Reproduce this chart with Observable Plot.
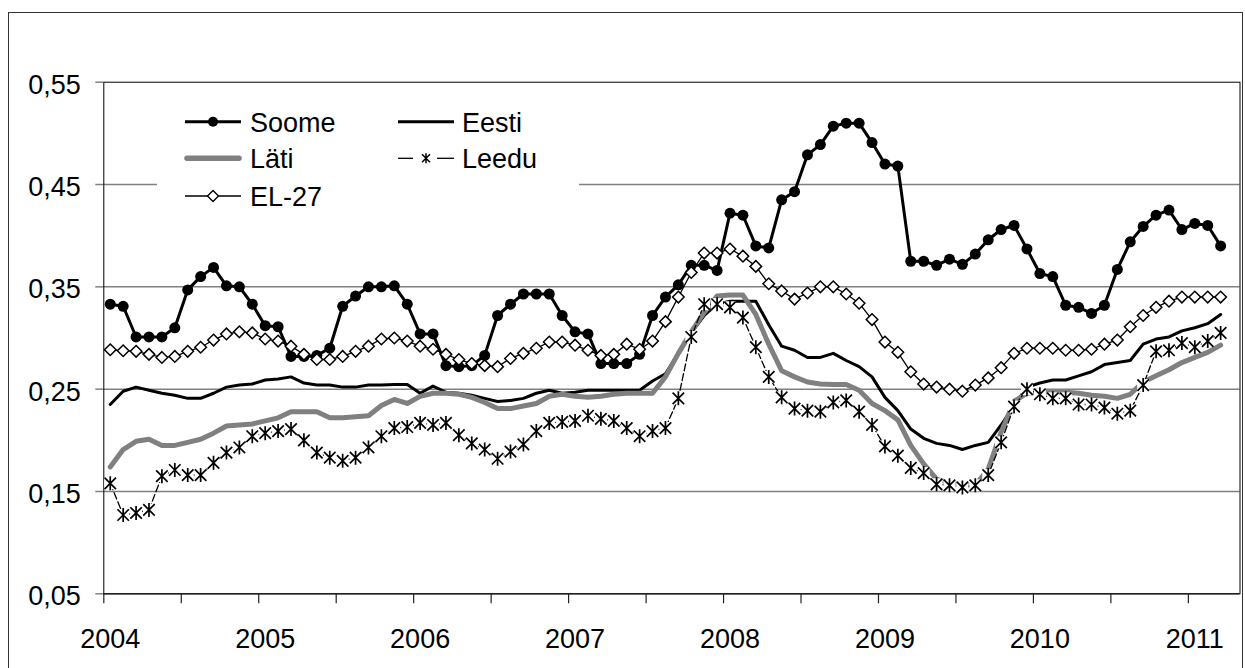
<!DOCTYPE html>
<html><head><meta charset="utf-8">
<script src="https://cdn.jsdelivr.net/npm/d3@7"></script>
<script src="https://cdn.jsdelivr.net/npm/@observablehq/plot@0.6"></script>
<style>
html,body{margin:0;padding:0;background:#fff;}
#wrap{position:relative;width:1245px;height:668px;overflow:hidden;font-family:"Liberation Sans",Arial,sans-serif;}
#frame{position:absolute;left:8px;top:12px;width:1235px;height:700px;border:1.5px solid #333;box-sizing:border-box;}
#chart{position:absolute;left:0;top:0;}
#legend{position:absolute;left:0;top:0;pointer-events:none;}
</style></head>
<body><div id="wrap"><div id="frame"></div><div id="chart"></div><svg id="legend" width="1245" height="668"></svg></div>
<script>
// Monthly values, Jan 2004 .. Mar 2011 (87 months)
const years = ["2004","2005","2006","2007","2008","2009","2010","2011"];
const yTicks = [0.05, 0.15, 0.25, 0.35, 0.45, 0.55];
const gridTicks = [0.15, 0.25, 0.35, 0.45];

const soome = [
 0.333,0.331,0.301,0.301,0.301,0.310,0.347,0.360,0.369,0.351,0.350,0.333,
 0.312,0.311,0.282,0.282,0.283,0.290,0.331,0.341,0.350,0.350,0.351,0.333,
 0.304,0.304,0.273,0.272,0.273,0.283,0.322,0.333,0.343,0.343,0.343,0.322,
 0.306,0.304,0.275,0.275,0.275,0.284,0.322,0.340,0.352,0.371,0.371,0.366,
 0.422,0.420,0.390,0.388,0.435,0.443,0.479,0.489,0.507,0.510,0.510,0.491,
 0.470,0.468,0.375,0.375,0.371,0.377,0.372,0.382,0.396,0.406,0.410,0.387,
 0.363,0.360,0.332,0.330,0.324,0.332,0.367,0.394,0.409,0.420,0.425,0.406,
 0.412,0.410,0.390];
const eesti = [
 0.235,0.248,0.252,0.249,0.246,0.244,0.241,0.241,0.246,0.252,0.254,0.255,
 0.259,0.260,0.262,0.256,0.254,0.254,0.252,0.252,0.254,0.254,0.2545,0.2545,
 0.246,0.253,0.247,0.246,0.244,0.241,0.238,0.239,0.241,0.246,0.249,0.246,
 0.247,0.249,0.249,0.249,0.249,0.249,0.258,0.265,0.285,0.305,0.322,0.333,
 0.336,0.336,0.336,0.313,0.292,0.288,0.281,0.281,0.285,0.278,0.272,0.262,
 0.242,0.229,0.211,0.202,0.197,0.195,0.191,0.195,0.198,0.215,0.234,0.252,
 0.256,0.259,0.259,0.263,0.267,0.274,0.276,0.278,0.294,0.299,0.301,0.307,
 0.310,0.314,0.323];
const lati = [
 0.174,0.191,0.199,0.201,0.195,0.195,0.198,0.201,0.207,0.214,0.215,0.216,
 0.219,0.222,0.228,0.228,0.228,0.222,0.222,0.223,0.224,0.234,0.240,0.236,
 0.243,0.246,0.246,0.245,0.242,0.237,0.231,0.231,0.2335,0.236,0.243,0.245,
 0.243,0.242,0.243,0.245,0.246,0.246,0.246,0.262,0.285,0.306,0.325,0.341,
 0.342,0.342,0.323,0.294,0.268,0.262,0.257,0.255,0.2545,0.2545,0.249,0.236,
 0.229,0.220,0.195,0.177,0.162,0.158,0.156,0.156,0.172,0.208,0.238,0.246,
 0.247,0.247,0.247,0.246,0.244,0.243,0.241,0.245,0.257,0.263,0.269,0.276,
 0.281,0.286,0.293];
const leedu = [
 0.158,0.127,0.129,0.132,0.165,0.171,0.166,0.166,0.178,0.188,0.193,0.204,
 0.207,0.209,0.211,0.200,0.188,0.183,0.180,0.183,0.193,0.204,0.212,0.213,
 0.217,0.215,0.217,0.205,0.197,0.191,0.182,0.189,0.196,0.209,0.217,0.218,
 0.219,0.224,0.221,0.219,0.212,0.204,0.209,0.212,0.241,0.301,0.333,0.333,
 0.330,0.320,0.291,0.262,0.242,0.231,0.229,0.228,0.237,0.239,0.228,0.215,
 0.194,0.185,0.173,0.168,0.157,0.156,0.154,0.156,0.166,0.198,0.233,0.250,
 0.245,0.241,0.241,0.235,0.235,0.232,0.226,0.229,0.254,0.287,0.288,0.295,
 0.291,0.297,0.305];
const el27 = [
 0.2885,0.2875,0.287,0.284,0.281,0.282,0.287,0.291,0.298,0.304,0.306,0.305,
 0.299,0.297,0.292,0.284,0.279,0.279,0.282,0.287,0.292,0.299,0.300,0.297,
 0.292,0.289,0.284,0.279,0.275,0.273,0.272,0.280,0.285,0.290,0.296,0.296,
 0.293,0.288,0.283,0.284,0.294,0.289,0.297,0.316,0.340,0.364,0.383,0.383,
 0.387,0.380,0.370,0.353,0.346,0.338,0.344,0.350,0.350,0.343,0.334,0.318,
 0.296,0.286,0.267,0.255,0.252,0.250,0.248,0.254,0.261,0.271,0.285,0.290,
 0.290,0.290,0.288,0.288,0.289,0.294,0.298,0.311,0.322,0.330,0.336,0.340,
 0.340,0.340,0.340];

const rows = vals => vals.map((v, i) => ({i, v}));
const dSoome = rows(soome), dEesti = rows(eesti), dLati = rows(lati), dLeedu = rows(leedu), dEl = rows(el27);
const nCat = 88;
const catBounds = d3.range(0, 15).map(k => 6 * k - 0.5);
const yearPos = years.map((y, k) => 12 * k);
const fmt = d => d.toFixed(2).replace(".", ",");

const asterisk = {
  draw(ctx, size) {
    const r = Math.sqrt(size / Math.PI);
    const d = r * 0.82;
    ctx.moveTo(-d, -d); ctx.lineTo(d, d);
    ctx.moveTo(-d, d); ctx.lineTo(d, -d);
    ctx.moveTo(0, -r); ctx.lineTo(0, r);
  }
};

const GRAY = "#808080";
const chart = Plot.plot({
  width: 1245, height: 668,
  marginLeft: 103.3, marginRight: 5.5, marginTop: 81.7, marginBottom: 74.7,
  x: {domain: [-0.5, nCat - 0.5]},
  y: {domain: [0.05, 0.55]},
  style: {fontFamily: "'Liberation Sans', Arial, sans-serif", fontSize: "27px", background: "transparent", color: "#000"},
  marks: [
    Plot.ruleY(gridTicks, {stroke: GRAY, strokeWidth: 1.5}),
    Plot.axisY({ticks: yTicks, tickSize: 8, tickFormat: () => "", stroke: GRAY, strokeWidth: 1.5, label: null}),
    Plot.axisY({ticks: yTicks, tickSize: 0, tickPadding: 23, tickFormat: fmt, dy: 3, label: null, fill: "#000"}),
    Plot.frame({stroke: "#000", strokeWidth: 1}),
    Plot.ruleY([0.05], {stroke: "#222", strokeWidth: 1.5}),
    Plot.axisX({ticks: catBounds, tickSize: 10, tickFormat: () => "", stroke: "#222", strokeWidth: 1.2, label: null}),
    Plot.axisX({ticks: yearPos, tickSize: 0, tickPadding: 35, tickFormat: d => years[d / 12], label: null, fill: "#000"}),
    // Soome
    Plot.line(dSoome, {x: "i", y: "v", stroke: "#000", strokeWidth: 3, strokeLinejoin: "round"}),
    Plot.dot(dSoome, {x: "i", y: "v", r: 5.5, fill: "#000", stroke: "none"}),
    // Eesti
    Plot.line(dEesti, {x: "i", y: "v", stroke: "#000", strokeWidth: 3, strokeLinejoin: "round"}),
    // Läti
    Plot.line(dLati, {x: "i", y: "v", stroke: GRAY, strokeWidth: 5, strokeLinejoin: "round", strokeLinecap: "round"}),
    // Leedu
    Plot.line(dLeedu, {x: "i", y: "v", stroke: "#000", strokeWidth: 1.3, strokeDasharray: "7,3"}),
    Plot.dot(dLeedu, {x: "i", y: "v", symbol: "square", r: 6.8, fill: "#fff", stroke: "none"}),
    Plot.dot(dLeedu, {x: "i", y: "v", symbol: asterisk, r: 7, fill: "none", stroke: "#000", strokeWidth: 1.7}),
    // EL-27
    Plot.line(dEl, {x: "i", y: "v", stroke: "#000", strokeWidth: 1.3, strokeLinejoin: "round"}),
    Plot.dot(dEl, {x: "i", y: "v", symbol: "diamond2", r: 5.2, fill: "#fff", stroke: "#000", strokeWidth: 1.5})
  ]
});
document.getElementById("chart").appendChild(chart);

// Legend
const names = ["Soome", "Eesti", "Läti", "Leedu", "EL-27"];
const leg = d3.select("#legend");
leg.append("rect").attr("x", 157).attr("y", 100).attr("width", 422).attr("height", 112).attr("fill", "#fff");
const col = [185, 398], colW = 56, textX = [250, 462];
const rowY = [121.7, 158.3, 196];
const items = [
  {name: names[0], c: 0, r: 0, kind: "soome"},
  {name: names[1], c: 1, r: 0, kind: "eesti"},
  {name: names[2], c: 0, r: 1, kind: "lati"},
  {name: names[3], c: 1, r: 1, kind: "leedu"},
  {name: names[4], c: 0, r: 2, kind: "el"}
];
for (const it of items) {
  const x0 = col[it.c], x1 = x0 + colW, y = rowY[it.r], cx = (x0 + x1) / 2;
  const g = leg.append("g");
  if (it.kind === "soome") {
    g.append("line").attr("x1", x0).attr("x2", x1).attr("y1", y).attr("y2", y).attr("stroke", "#000").attr("stroke-width", 3);
    g.append("circle").attr("cx", cx).attr("cy", y).attr("r", 5).attr("fill", "#000");
  } else if (it.kind === "eesti") {
    g.append("line").attr("x1", x0).attr("x2", x1).attr("y1", y).attr("y2", y).attr("stroke", "#000").attr("stroke-width", 3);
  } else if (it.kind === "lati") {
    g.append("line").attr("x1", x0 + 2).attr("x2", x1 - 2).attr("y1", y).attr("y2", y).attr("stroke", GRAY).attr("stroke-width", 5.5).attr("stroke-linecap", "round");
  } else if (it.kind === "leedu") {
    g.append("line").attr("x1", x0).attr("x2", x0 + 15).attr("y1", y).attr("y2", y).attr("stroke", "#000").attr("stroke-width", 1.3);
    g.append("line").attr("x1", x1 - 17).attr("x2", x1).attr("y1", y).attr("y2", y).attr("stroke", "#000").attr("stroke-width", 1.3);
    const d = 4, r = 5;
    g.append("path").attr("d", `M${cx-d},${y-d}L${cx+d},${y+d}M${cx-d},${y+d}L${cx+d},${y-d}M${cx},${y-r}L${cx},${y+r}`).attr("stroke", "#000").attr("stroke-width", 1.5).attr("fill", "none");
  } else {
    g.append("line").attr("x1", x0).attr("x2", x1).attr("y1", y).attr("y2", y).attr("stroke", "#000").attr("stroke-width", 1.3);
    const h = 5.5;
    g.append("path").attr("d", `M${cx},${y-h}L${cx+h},${y}L${cx},${y+h}L${cx-h},${y}Z`).attr("fill", "#fff").attr("stroke", "#000").attr("stroke-width", 1.4);
  }
  g.append("text").attr("x", textX[it.c]).attr("y", y + 9.8).attr("font-size", 27).attr("font-family", "'Liberation Sans', Arial, sans-serif").attr("fill", "#000").text(it.name);
}
</script>
</body></html>
